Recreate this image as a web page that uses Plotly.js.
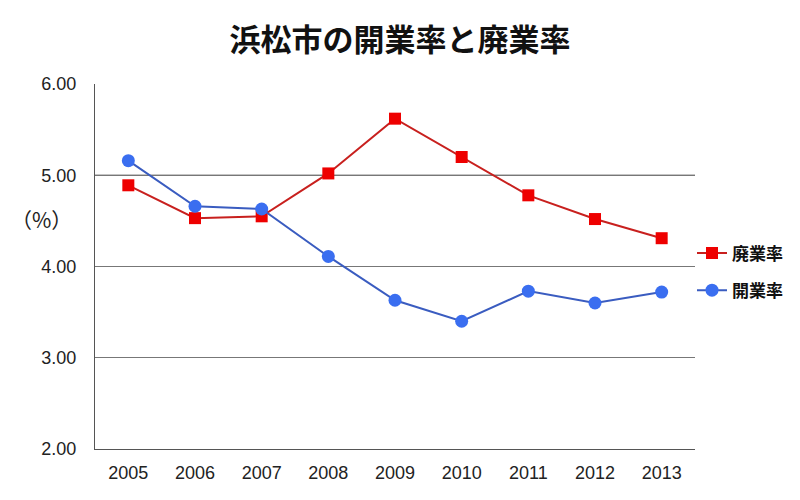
<!DOCTYPE html>
<html><head><meta charset="utf-8">
<script src="https://cdn.plot.ly/plotly-3.0.1.min.js"></script>
<style>body{margin:0;background:#fff}#c{width:800px;height:500px}</style>
</head><body><div id="c"></div>
<script>
const years = ['2005','2006','2007','2008','2009','2010','2011','2012','2013'];
const haigyo = [4.89, 4.53, 4.55, 5.02, 5.62, 5.20, 4.78, 4.52, 4.31];
const kaigyo = [5.16, 4.66, 4.63, 4.11, 3.63, 3.40, 3.73, 3.60, 3.72];
const yTicks = [2, 3, 4, 5, 6];
const yTickText = ['2.00', '3.00', '4.00', '5.00', '6.00'];

const traces = [
  {x: years, y: haigyo, name: '廃業率', legendgroup: 'a', type: 'scatter', mode: 'lines+markers',
   line: {color: '#c8201e', width: 2}, marker: {symbol: 'square', size: 12, color: '#ee0000'}},
  {x: years, y: kaigyo, name: '開業率', legendgroup: 'b', type: 'scatter', mode: 'lines+markers',
   line: {color: '#3a5cc0', width: 2}, marker: {symbol: 'circle', size: 13, color: '#3a6ef0'}}
];
const layout = {
  width: 800, height: 500,
  margin: {l: 95, r: 102, t: 84, b: 51},
  paper_bgcolor: '#fff', plot_bgcolor: '#fff',
  font: {family: 'Liberation Sans, Arial, sans-serif', color: '#222', size: 17},
  title: {text: '浜松市の開業率と廃業率', x: 0.5, xanchor: 'center', y: 0.92, yanchor: 'middle',
          font: {family: 'Noto Sans CJK JP', size: 31, color: '#111', weight: 'bold'}},
  xaxis: {type: 'category', range: [-0.5, 8.5], showgrid: false, zeroline: false,
          showline: true, linecolor: '#555', linewidth: 1,
          ticks: 'outside', ticklen: 7, tickcolor: 'rgba(0,0,0,0)',
          tickfont: {size: 18, color: '#222'}},
  yaxis: {range: [2, 6], tickvals: yTicks, ticktext: yTickText,
          showgrid: true, gridcolor: '#777', gridwidth: 1, zeroline: false,
          showline: true, linecolor: '#555', linewidth: 1,
          ticks: 'outside', ticklen: 14, tickcolor: 'rgba(0,0,0,0)',
          tickfont: {size: 18, color: '#222'}},
  shapes: [{type: 'line', xref: 'paper', x0: 0, x1: 1, yref: 'y', y0: 5, y1: 5,
            line: {color: '#111', width: 1}, layer: 'below'}],
  legend: {x: 0.995, xanchor: 'left', y: 0.485, yanchor: 'middle', bgcolor: 'rgba(0,0,0,0)',
           font: {family: 'Noto Sans CJK JP', size: 17, color: '#111', weight: 'bold'},
           itemwidth: 30, tracegroupgap: 12},
  annotations: [{text: '（%）', xref: 'paper', yref: 'paper', x: -0.09, y: 0.63,
                 xanchor: 'center', yanchor: 'middle', showarrow: false,
                 font: {family: 'Noto Sans CJK JP', size: 21, color: '#222'}}]
};
Plotly.newPlot('c', traces, layout, {displayModeBar: false});
</script></body></html>
